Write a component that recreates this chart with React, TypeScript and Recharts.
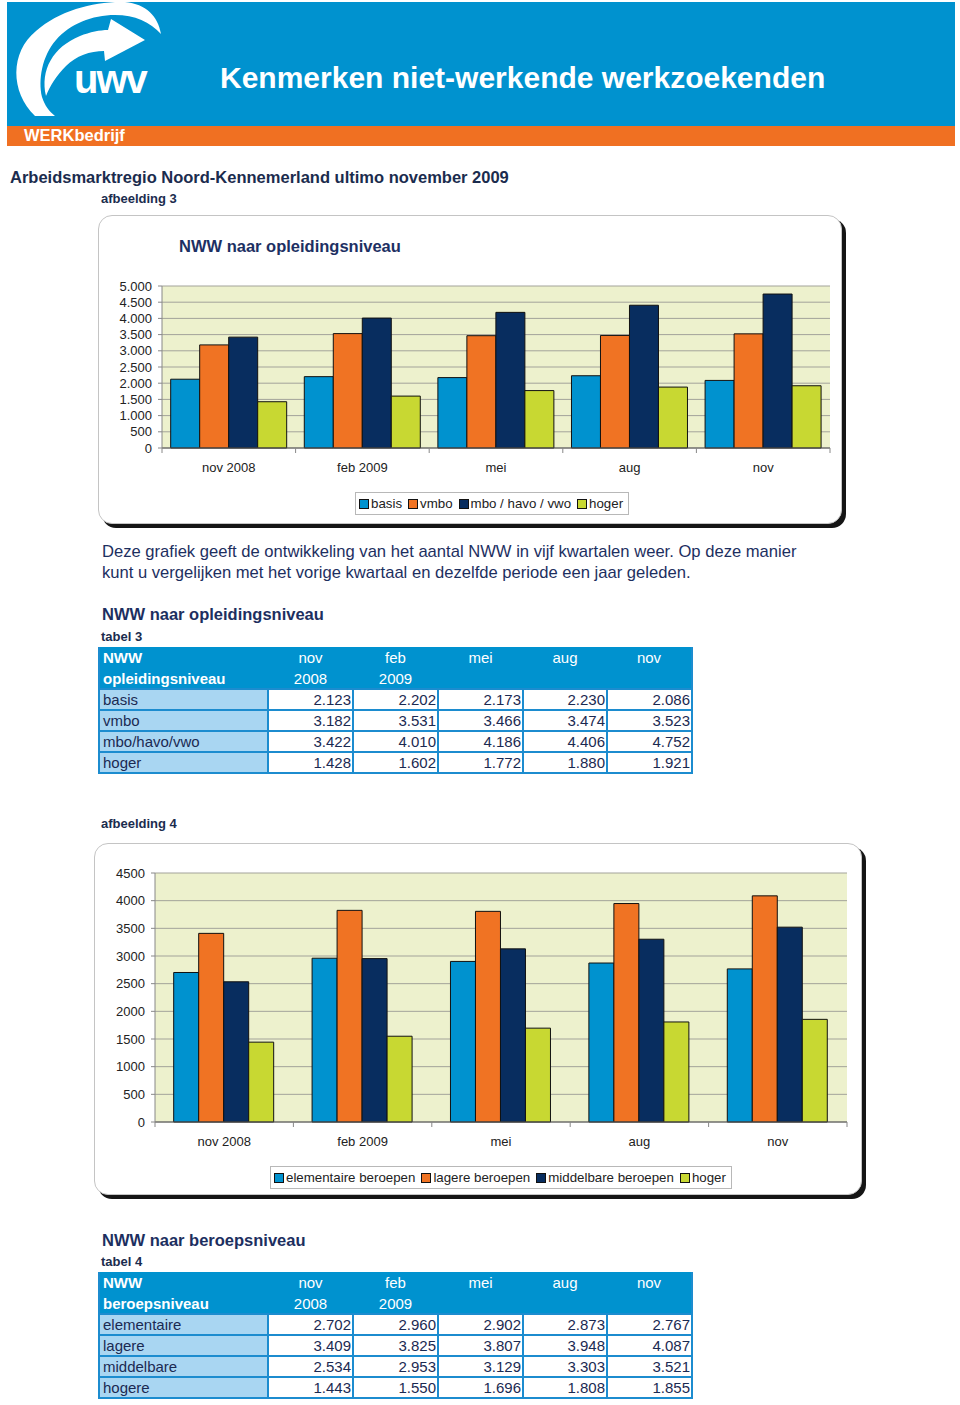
import React from 'react';
import { BarChart, Bar, XAxis, YAxis, CartesianGrid, Legend } from 'recharts';

const periods = ['nov 2008', 'feb 2009', 'mei', 'aug', 'nov'];
const months = ['nov', 'feb', 'mei', 'aug', 'nov'];
const years = ['2008', '2009', '', '', ''];

// NWW naar opleidingsniveau (tabel 3)
const basis = [2123, 2202, 2173, 2230, 2086];
const vmbo = [3182, 3531, 3466, 3474, 3523];
const mboHavoVwo = [3422, 4010, 4186, 4406, 4752];
const hoger = [1428, 1602, 1772, 1880, 1921];

// NWW naar beroepsniveau (tabel 4)
const elementaire = [2702, 2960, 2902, 2873, 2767];
const lagere = [3409, 3825, 3807, 3948, 4087];
const middelbare = [2534, 2953, 3129, 3303, 3521];
const hogere = [1443, 1550, 1696, 1808, 1855];

const opleidingTicks = [0, 500, 1000, 1500, 2000, 2500, 3000, 3500, 4000, 4500, 5000];
const beroepTicks = [0, 500, 1000, 1500, 2000, 2500, 3000, 3500, 4000, 4500];

const BLUE = '#0092CF';
const ORANGE = '#F07323';
const NAVY = '#082D5F';
const LIME = '#C8D832';
const TEXT_BLUE = '#1d2f5f';

type Series = { key: string; name: string; row: string; values: number[]; color: string };

const opleidingSeries: Series[] = [
  { key: 'basis', name: 'basis', row: 'basis', values: basis, color: BLUE },
  { key: 'vmbo', name: 'vmbo', row: 'vmbo', values: vmbo, color: ORANGE },
  { key: 'mbo', name: 'mbo / havo / vwo', row: 'mbo/havo/vwo', values: mboHavoVwo, color: NAVY },
  { key: 'hoger', name: 'hoger', row: 'hoger', values: hoger, color: LIME },
];

const beroepSeries: Series[] = [
  { key: 'elementaire', name: 'elementaire beroepen', row: 'elementaire', values: elementaire, color: BLUE },
  { key: 'lagere', name: 'lagere beroepen', row: 'lagere', values: lagere, color: ORANGE },
  { key: 'middelbare', name: 'middelbare beroepen', row: 'middelbare', values: middelbare, color: NAVY },
  { key: 'hogere', name: 'hoger', row: 'hogere', values: hogere, color: LIME },
];

const dotted = (v: number) => String(v).replace(/\B(?=(\d{3})+(?!\d))/g, '.');
const plain = (v: number) => String(v);

function T({ x, y, size, bold, color, children }: any) {
  return (
    <div
      style={{
        position: 'absolute',
        left: x,
        top: y - size * 0.6,
        fontSize: size,
        lineHeight: `${size * 1.2}px`,
        fontWeight: bold ? 'bold' : 'normal',
        color,
        whiteSpace: 'nowrap',
      }}
    >
      {children}
    </div>
  );
}

function PeriodTick(props: any) {
  const { x, y, payload, index, half, count } = props;
  const h = payload && typeof payload.offset === 'number' && payload.offset > 0 ? payload.offset : half;
  return (
    <g>
      <line x1={x - h} x2={x - h} y1={y} y2={y + 5} stroke="#888" />
      {index === count - 1 && <line x1={x + h} x2={x + h} y1={y} y2={y + 5} stroke="#888" />}
      <text x={x} y={y + 19} textAnchor="middle" dominantBaseline="central" fontSize={13} fill="#222">
        {payload.value}
      </text>
    </g>
  );
}

function LegendBox({ series }: { series: Series[] }) {
  return (
    <div
      style={{
        display: 'flex',
        alignItems: 'center',
        border: '1px solid #b8b8b8',
        background: '#fff',
        padding: '2px 5px 2px 3px',
        height: 17,
        fontSize: 13.3,
        color: '#222',
        whiteSpace: 'nowrap',
      }}
    >
      {series.map((s, i) => (
        <span key={s.key} style={{ display: 'flex', alignItems: 'center', marginLeft: i === 0 ? 0 : 6 }}>
          <span
            style={{
              display: 'inline-block',
              width: 8,
              height: 8,
              background: s.color,
              border: '1px solid #111',
              marginRight: 2,
            }}
          />
          {s.name}
        </span>
      ))}
    </div>
  );
}

function GroupedBars({ series, width, height, margin, yWidth, ticks, tickFormat, gap, legendTop, legendLeft }: any) {
  const data = periods.map((period, i) => {
    const row: Record<string, string | number> = { period };
    series.forEach((s: Series) => {
      row[s.key] = s.values[i];
    });
    return row;
  });
  const half = (width - margin.left - margin.right - yWidth) / periods.length / 2;
  return (
    <BarChart width={width} height={height} data={data} margin={margin} barGap={0} barCategoryGap={gap}>
      <CartesianGrid vertical={false} stroke="#a3a39a" fill="#EDF1CD" fillOpacity={1} />
      <XAxis
        dataKey="period"
        interval={0}
        height={30}
        tickSize={0}
        tickMargin={0}
        tickLine={false}
        axisLine={{ stroke: '#555' }}
        tick={(p: any) => <PeriodTick {...p} half={half} count={periods.length} />}
      />
      <YAxis
        width={yWidth}
        domain={[0, ticks[ticks.length - 1]]}
        ticks={ticks}
        interval={0}
        tickFormatter={tickFormat}
        tick={{ fontSize: 13, fill: '#222' }}
        tickSize={4}
        tickMargin={6}
        tickLine={{ stroke: '#888' }}
        axisLine={{ stroke: '#888' }}
      />
      <YAxis yAxisId="edge" orientation="right" width={0} tick={false} tickLine={false} axisLine={{ stroke: '#a3a39a' }} />
      {series.map((s: Series) => (
        <Bar
          key={s.key}
          dataKey={s.key}
          name={s.name}
          fill={s.color}
          stroke="#111"
          strokeWidth={1}
          isAnimationActive={false}
        />
      ))}
      <Legend
        layout="horizontal"
        verticalAlign="middle"
        align="center"
        wrapperStyle={{ top: legendTop, left: legendLeft, width: 'auto', height: 'auto' }}
        content={() => <LegendBox series={series} />}
      />
    </BarChart>
  );
}

function ChartBox({ x, y, w, h, children }: any) {
  return (
    <div
      style={{
        position: 'absolute',
        left: x,
        top: y,
        width: w,
        height: h,
        border: '1px solid #c4c4c4',
        borderRadius: 14,
        boxShadow: '4px 4px 0 #151515',
        background: '#fff',
        boxSizing: 'border-box',
      }}
    >
      {children}
    </div>
  );
}

function DataTable({ x, y, heading, series }: { x: number; y: number; heading: string; series: Series[] }) {
  const border = '2px solid #1C8CCF';
  const cellText = { fontSize: 15, color: '#1b2a52', padding: '0 3px', height: 19, lineHeight: '19px' };
  return (
    <table
      style={{
        position: 'absolute',
        left: x,
        top: y,
        width: 593,
        borderCollapse: 'collapse',
        tableLayout: 'fixed',
      }}
    >
      <colgroup>
        <col style={{ width: 169 }} />
        <col style={{ width: 85 }} />
        <col style={{ width: 85 }} />
        <col style={{ width: 85 }} />
        <col style={{ width: 84 }} />
        <col style={{ width: 85 }} />
      </colgroup>
      <tbody>
        <tr style={{ background: BLUE, color: '#fff', height: 21 }}>
          <td style={{ ...cellText, color: '#fff', fontWeight: 'bold', borderLeft: border }}>NWW</td>
          {months.map((m, i) => (
            <td key={i} style={{ ...cellText, color: '#fff', textAlign: 'center', borderRight: i === 4 ? border : undefined }}>
              {m}
            </td>
          ))}
        </tr>
        <tr style={{ background: BLUE, color: '#fff', height: 21 }}>
          <td style={{ ...cellText, color: '#fff', fontWeight: 'bold', borderLeft: border }}>{heading}</td>
          {years.map((m, i) => (
            <td key={i} style={{ ...cellText, color: '#fff', textAlign: 'center', borderRight: i === 4 ? border : undefined }}>
              {m}
            </td>
          ))}
        </tr>
        {series.map((s) => (
          <tr key={s.key} style={{ height: 21 }}>
            <td style={{ ...cellText, background: '#A9D6F2', border }}>{s.row}</td>
            {s.values.map((v, i) => (
              <td key={i} style={{ ...cellText, background: '#fff', border, textAlign: 'right', padding: '0 1px 0 3px' }}>
                {dotted(v)}
              </td>
            ))}
          </tr>
        ))}
      </tbody>
    </table>
  );
}

function Logo() {
  return (
    <svg width={200} height={130} style={{ position: 'absolute', left: 0, top: 0 }}>
      <path
        d="M35,116 C10,92 10,52 36,31 C60,10 95,1 125,2 C146,4 158,16 161,34 C150,22 135,15 115,15 C92,15 70,24 56,40 C42,56 38,80 42,97 C45,106 49,111 55,116 Z"
        fill="#fff"
      />
      <path
        d="M46,96 C40,70 53,47 80,36 C90,32 100,30 108,30 L111,19 L145,40 L105,61 L104,51 C90,51 76,56 66,66 C56,76 50,86 46,96 Z"
        fill="#fff"
      />
      <text x={74} y={93} fontSize={40} fontWeight="bold" fill="#fff" letterSpacing={-2}>
        uwv
      </text>
    </svg>
  );
}

export default function App() {
  return (
    <div
      style={{
        position: 'absolute',
        left: 0,
        top: 0,
        width: 960,
        height: 1405,
        background: '#fff',
        fontFamily: "'Liberation Sans', Arial, sans-serif",
        overflow: 'hidden',
      }}
    >
      <div style={{ position: 'absolute', left: 7, top: 2, width: 948, height: 124, background: BLUE }} />
      <div style={{ position: 'absolute', left: 7, top: 126, width: 948, height: 20, background: '#F07022' }} />
      <Logo />
      <T x={220} y={78} size={30} bold color="#fff">Kenmerken niet-werkende werkzoekenden</T>
      <T x={24} y={136} size={16.5} bold color="#fff">WERKbedrijf</T>

      <T x={10} y={178} size={16.5} bold color="#1b2c4e">Arbeidsmarktregio Noord-Kennemerland ultimo november 2009</T>
      <T x={101} y={199} size={13} bold color="#1b2c4e">afbeelding 3</T>

      <ChartBox x={98} y={215} w={744} h={309}>
        <T x={80} y={31} size={16.5} bold color="#1d3063">NWW naar opleidingsniveau</T>
        <div style={{ position: 'absolute', left: -1, top: -1 }}>
          <GroupedBars
            series={opleidingSeries}
            width={744}
            height={309}
            margin={{ top: 71, right: 12, bottom: 46, left: 0 }}
            yWidth={64}
            ticks={opleidingTicks}
            tickFormat={dotted}
            gap="6.5%"
            legendTop={277}
            legendLeft={257}
          />
        </div>
      </ChartBox>

      <div style={{ position: 'absolute', left: 102, top: 541, fontSize: 16.6, lineHeight: '21px', color: TEXT_BLUE, whiteSpace: 'nowrap' }}>
        Deze grafiek geeft de ontwikkeling van het aantal NWW in vijf kwartalen weer. Op deze manier
        <br />
        kunt u vergelijken met het vorige kwartaal en dezelfde periode een jaar geleden.
      </div>

      <T x={102} y={615} size={16.5} bold color={TEXT_BLUE}>NWW naar opleidingsniveau</T>
      <T x={101} y={637} size={13} bold color="#1b2c4e">tabel 3</T>
      <DataTable x={98} y={647} heading="opleidingsniveau" series={opleidingSeries} />

      <T x={101} y={824} size={13} bold color="#1b2c4e">afbeelding 4</T>
      <ChartBox x={94} y={843} w={768} h={352}>
        <div style={{ position: 'absolute', left: -1, top: -1 }}>
          <GroupedBars
            series={beroepSeries}
            width={768}
            height={352}
            margin={{ top: 30, right: 15, bottom: 43, left: 0 }}
            yWidth={61}
            ticks={beroepTicks}
            tickFormat={plain}
            gap="13.5%"
            legendTop={323}
            legendLeft={176}
          />
        </div>
      </ChartBox>

      <T x={102} y={1241} size={16.5} bold color={TEXT_BLUE}>NWW naar beroepsniveau</T>
      <T x={101} y={1262} size={13} bold color="#1b2c4e">tabel 4</T>
      <DataTable x={98} y={1272} heading="beroepsniveau" series={beroepSeries} />
    </div>
  );
}
